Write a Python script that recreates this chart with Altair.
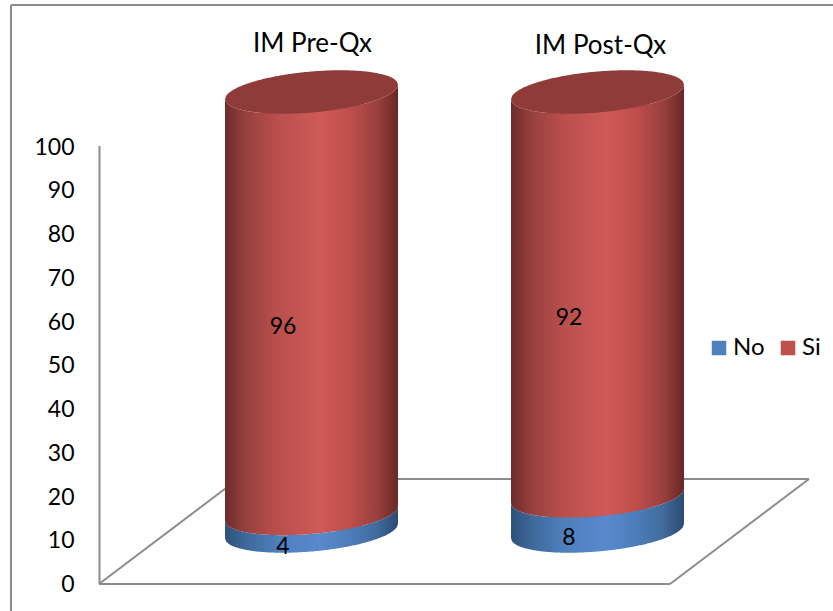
import numpy as np
import pandas as pd
import altair as alt

# Chart values
categories = ["IM Pre-Qx", "IM Post-Qx"]
no_values = [4, 8]
si_values = [96, 92]
series_names = ["No", "Si"]
y_ticks = list(range(0, 101, 10))

# Cylinder geometry, in data units of the x and y scales
HALF_WIDTH = 0.3024
CAP_DEPTH = 4.67
CAP_TILT = 1.65
u = np.linspace(-1, 1, 161)
curve = CAP_DEPTH * np.sqrt(1 - u ** 2)
lean = CAP_TILT * u


def segments():
    rows = []
    for i, cat in enumerate(categories):
        for j, (lo, hi) in enumerate([(0, no_values[i]), (no_values[i], no_values[i] + si_values[i])]):
            for k in range(len(u)):
                rows.append({
                    "category": cat, "series": series_names[j],
                    "px": i + HALF_WIDTH * u[k],
                    "low": lo + lean[k] - curve[k],
                    "high": hi + lean[k] - curve[k],
                })
    return pd.DataFrame(rows)


def top_caps():
    rows = []
    for i, cat in enumerate(categories):
        total = no_values[i] + si_values[i]
        for k in range(len(u)):
            rows.append({
                "category": cat,
                "px": i + HALF_WIDTH * u[k],
                "low": total + lean[k] - curve[k],
                "high": total + lean[k] + curve[k],
            })
    return pd.DataFrame(rows)


def horizontal(stops):
    return alt.Gradient(
        gradient="linear", x1=0, y1=0, x2=1, y2=0,
        stops=[alt.GradientStop(offset=o, color=c) for o, c in stops],
    )


RED = horizontal([(0, "#6b2c2a"), (0.12, "#97403e"), (0.3, "#b94f4c"), (0.55, "#cf5a57"),
                  (0.72, "#c04e4b"), (0.88, "#98403e"), (1, "#692724")])
BLUE = horizontal([(0, "#2d5179"), (0.12, "#3e689b"), (0.3, "#4d7fbb"), (0.55, "#5889cd"),
                   (0.72, "#4c7eba"), (0.88, "#406b9c"), (1, "#2a4a72")])

LINE = "#8c8c8c"
FONT = "Lato"
TICK_SIZE = 23
TITLE_SIZE = 26

x_scale = alt.Scale(domain=[0, 1], range=[311.5, 597.5], zero=False, nice=False, padding=0)
y_axis_scale = alt.Scale(domain=[0, 100], range=[583, 145.5], nice=False)
y_body_scale = alt.Scale(domain=[0, 100], range=[531, 92], nice=False)
color_scale = alt.Scale(domain=series_names, range=["#4f81bd", "#c0504d"])


def line(x0, y0, x1, y1):
    return alt.Chart(pd.DataFrame({"k": [0]})).mark_rule(color=LINE, strokeWidth=2).encode(
        x=alt.value(x0), x2=alt.value(x1), y=alt.value(y0), y2=alt.value(y1)
    )


# Outer frame and floor of the plot box
decor = [
    line(11, 5, 833, 5), line(11, 5, 11, 611),
    line(99, 584, 670, 584), line(670, 584, 809, 479), line(809, 479, 238, 479), line(238, 479, 99, 584),
]

# Value axis
axis_layer = alt.Chart(pd.DataFrame({"v": y_ticks})).mark_point(opacity=0).encode(
    y=alt.Y("v:Q", scale=y_axis_scale, axis=alt.Axis(
        values=y_ticks, title=None, grid=False, ticks=False, offset=-99,
        domainColor=LINE, domainWidth=2, labelFont=FONT, labelFontSize=TICK_SIZE,
        labelColor="#000000", labelPadding=25, labelOffset=1.5,
    ))
)

bars = pd.DataFrame([
    {"idx": i, "series": s, "start": a, "end": b}
    for i in range(len(categories))
    for s, a, b in [("No", 0, no_values[i]), ("Si", no_values[i], no_values[i] + si_values[i])]
])

# Flat stacks under the shaded bodies; these also supply the legend
legend_layer = alt.Chart(bars).mark_bar(size=100).encode(
    x=alt.X("idx:Q", scale=x_scale, axis=None),
    y=alt.Y("start:Q", scale=y_body_scale, axis=None),
    y2="end:Q",
    color=alt.Color("series:N", scale=color_scale, legend=alt.Legend(
        title=None, orient="none", legendX=707, legendY=336, direction="horizontal",
        symbolType="square", symbolSize=210, symbolStrokeWidth=0, labelFont=FONT,
        labelFontSize=TICK_SIZE + 1, labelColor="#000000", columnPadding=11,
        labelOffset=2, padding=0,
    )),
)

seg = segments()


def body(series, fill):
    return alt.Chart(seg[seg.series == series]).mark_area(fill=fill, interpolate="linear").encode(
        x=alt.X("px:Q", scale=x_scale, axis=None),
        y=alt.Y("low:Q", scale=y_body_scale, axis=None),
        y2="high:Q",
        detail="category:N",
    )


cap = alt.Chart(top_caps()).mark_area(fill="#8f3b39", interpolate="linear").encode(
    x=alt.X("px:Q", scale=x_scale, axis=None),
    y=alt.Y("low:Q", scale=y_body_scale, axis=None),
    y2="high:Q",
    detail="category:N",
)

label_df = pd.DataFrame([
    {"idx": i, "mid": a + v / 2, "value": v}
    for i in range(len(categories))
    for a, v in [(0, no_values[i]), (no_values[i], si_values[i])]
])
labels = alt.Chart(label_df).mark_text(font=FONT, fontSize=TICK_SIZE, color="#000000", dx=-28.5, dy=24.5).encode(
    x=alt.X("idx:Q", scale=x_scale, axis=None),
    y=alt.Y("mid:Q", scale=y_body_scale, axis=None),
    text=alt.Text("value:Q"),
)


def column_title(i, dx, top):
    return alt.Chart(pd.DataFrame({"idx": [i], "name": [categories[i]]})).mark_text(
        font=FONT, fontSize=TITLE_SIZE, color="#000000", dx=dx
    ).encode(
        x=alt.X("idx:Q", scale=x_scale, axis=None),
        y=alt.value(top),
        text="name:N",
    )


chart = alt.layer(
    *decor, axis_layer, legend_layer, body("No", BLUE), body("Si", RED), cap, labels,
    column_title(0, 1, 43.5), column_title(1, 3, 45.5),
).resolve_scale(y="independent").properties(
    width=833, height=611, padding=0, autosize=alt.AutoSizeParams(type="none"), background="#ffffff"
).configure_view(stroke=None)

chart.save("out.html", embed_options={"renderer": "svg", "actions": False})
